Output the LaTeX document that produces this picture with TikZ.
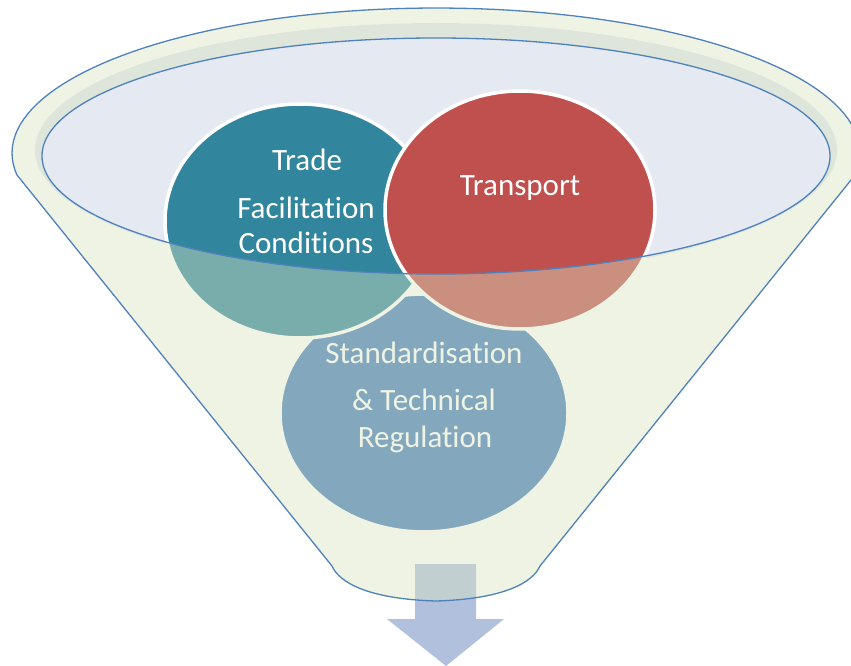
\documentclass[tikz,border=0pt]{standalone}
\usepackage{fontspec}
\setmainfont[RawFeature={-liga;-clig;-dlig;-calt}]{Carlito}
\definecolor{rimline}{HTML}{4F81BD}
\definecolor{openback}{HTML}{E4E9F2}
\definecolor{funnelglass}{HTML}{D8E4C1}
\definecolor{tradeteal}{HTML}{31859C}
\definecolor{transred}{HTML}{C0504D}
\definecolor{stdblue}{HTML}{447BBA}
\definecolor{arrowblue}{HTML}{B0C0DD}

\begin{document}
\begin{tikzpicture}[x=1pt,y=-1pt,
    bubble/.style={draw=white,line width=3.5pt},
    word/.style={text=white,anchor=base,inner sep=0pt,font=\fontsize{31pt}{35pt}\selectfont}]
			%%%%% START %%%%%
			\useasboundingbox (0,0) rectangle (851,666);
			
			\fill[openback] (436,150) ellipse [x radius=401pt, y radius=127pt];
			
			\fill[arrowblue] (415,564) -- (476,564) -- (476,619) -- (504,619) -- (446,666) -- (387,619) -- (415,619) -- cycle;
			
			\filldraw[bubble, fill=stdblue] (424,413) ellipse [x radius=144pt, y radius=119pt];
			\filldraw[bubble, fill=tradeteal] (300,221) ellipse [x radius=135pt, y radius=117pt];
			\filldraw[bubble, fill=transred] (520,210) ellipse [x radius=135pt, y radius=119pt];
			
			\node[word] (trade) at (307,170) {Trade};
			\node[word] (facil) at (306,218) {Facilitation};
			\node[word] (cond) at (306,253) {Conditions};
			\node[word] (transport) at (520,195) {Transport};
			\node[word] (stand) at (424,363) {Standardisation};
			\node[word] (tech) at (424,410) {\& Technical};
			\node[word] (regul) at (425,447) {Regulation};
			
			\fill[funnelglass, fill opacity=0.43, even odd rule] (332,566) -- (17,175)
			  -- plot[domain=171.3:368.7, samples=90] ({436+424*cos(\x)},{153+145*sin(\x)})
			  -- (540,566) .. controls (533,582) and (505,599) .. (436,601)
			  .. controls (367,599) and (339,582) .. (332,566) -- cycle
			  (436,156) ellipse [x radius=394pt, y radius=118pt];
			
			\draw[rimline, line width=1.3pt, line join=round] (332,566) -- (17,175)
			  -- plot[domain=171.3:368.7, samples=90] ({436+424*cos(\x)},{153+145*sin(\x)})
			  -- (540,566) .. controls (533,582) and (505,599) .. (436,601)
			  .. controls (367,599) and (339,582) .. (332,566) -- cycle;
			\draw[rimline, line width=1.3pt] (436,156) ellipse [x radius=394pt, y radius=118pt];
			
			%%%%% END %%%%%
\end{tikzpicture}
\end{document}
